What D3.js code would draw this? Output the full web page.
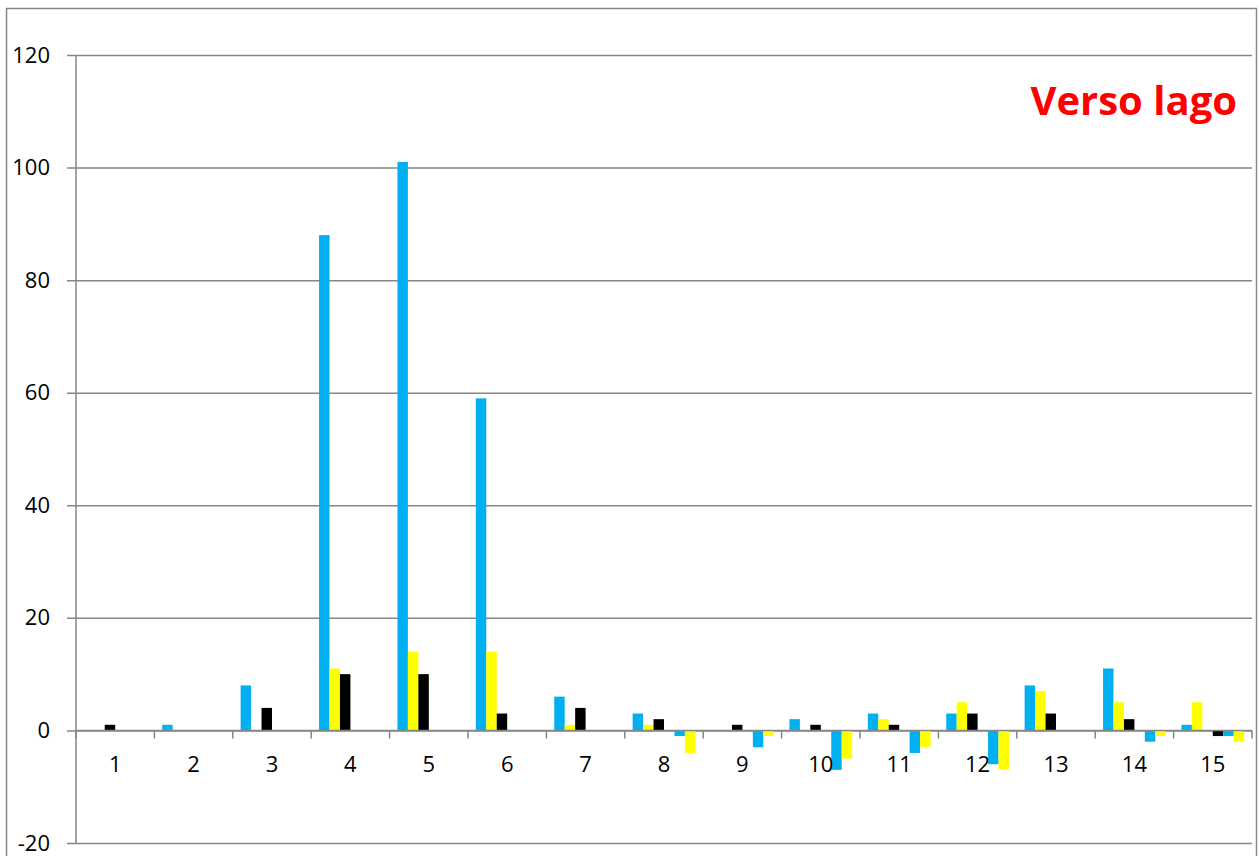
<!DOCTYPE html>
<html>
<head>
<meta charset="utf-8">
<script src="https://cdn.jsdelivr.net/npm/d3@7"></script>
<style>
  body { margin: 0; background: #fff; }
  text { font-family: "Open Sans", sans-serif; }
</style>
</head>
<body>
<div id="chart"></div>
<script>
let width = 1260,
    height = 856,
    margin = ({ top: 55, right: 8, bottom: 13, left: 76 });

const categories = ["1","2","3","4","5","6","7","8","9","10","11","12","13","14","15"];
const seriesNames = ["s1","s2","s3","s4","s5","s6"];
const seriesColors = ["#00b0f0","#ffff00","#000000","#000000","#00b0f0","#ffff00"];

// one array per series, one value per category
const s1 = [0, 1, 8, 88, 101, 59, 6, 3, 0, 2, 3, 3, 8, 11, 1];
const s2 = [0, 0, 0, 11, 14, 14, 1, 1, 0, 0, 2, 5, 7, 5, 5];
const s3 = [1, 0, 4, 10, 10, 3, 4, 2, 1, 1, 1, 3, 3, 2, 0];
const s4 = [0, 0, 0, 0, 0, 0, 0, 0, 0, 0, 0, 0, 0, 0, -1];
const s5 = [0, 0, 0, 0, 0, 0, 0, -1, -3, -7, -4, -6, 0, -2, -1];
const s6 = [0, 0, 0, 0, 0, 0, 0, -4, -1, -5, -3, -7, 0, -1, -2];
const yTicks = [-20, 0, 20, 40, 60, 80, 100, 120];
const title = "Verso lago";

const seriesValues = [s1, s2, s3, s4, s5, s6];

const svg = d3.select("#chart")
    .append("svg")
    .attr("width", width)
    .attr("height", height);

// outer chart frame
svg.append("path")
    .attr("d", "M6.5,860 V8.5 H1256.5 V860")
    .attr("fill", "none")
    .attr("stroke", "#868686")
    .attr("stroke-width", 1.5);

let x = d3.scaleBand()
    .domain(categories)
    .range([margin.left, 1252])
    .paddingInner(0)
    .paddingOuter(0);

let xs = d3.scaleBand()
    .domain(seriesNames)
    .range([0, x.bandwidth()])
    .paddingInner(0)
    .paddingOuter(0.75);

let y = d3.scaleLinear()
    .domain([-20, 120])
    .range([height - margin.bottom, margin.top]);

// horizontal gridlines + y labels
svg.append("g")
    .attr("transform", `translate(${margin.left},0)`)
    .attr("class", "y-axis")
    .call(d3.axisLeft(y).tickValues(yTicks).tickFormat(d => String(d))
        .tickSize(-(1252 - margin.left)).tickSizeOuter(0).tickPadding(26))
    .call(g => g.select(".domain").remove())
    .call(g => g.selectAll(".tick line")
        .attr("x1", -9)
        .attr("stroke", "#868686")
        .attr("stroke-width", 1.5))
    .call(g => g.selectAll(".tick text")
        .attr("font-size", 22)
        .attr("fill", "#000"));

// left axis line
svg.append("line")
    .attr("x1", margin.left).attr("x2", margin.left)
    .attr("y1", y(120)).attr("y2", y(-20))
    .attr("stroke", "#868686")
    .attr("stroke-width", 1.5);

// bars
const rows = [];
categories.forEach((c, i) => {
  seriesNames.forEach((s, j) => {
    rows.push({ cat: c, series: s, value: seriesValues[j][i], color: seriesColors[j] });
  });
});

svg.append("g")
    .selectAll("rect")
    .data(rows.filter(d => d.value !== 0))
    .join("rect")
    .attr("x", d => x(d.cat) + xs(d.series))
    .attr("width", xs.bandwidth())
    .attr("y", d => y(Math.max(0, d.value)))
    .attr("height", d => Math.abs(y(d.value) - y(0)))
    .attr("fill", d => d.color);

// category axis at zero
const xAxis = svg.append("g")
    .attr("transform", `translate(0,${y(0)})`)
    .attr("class", "x-axis");

xAxis.append("line")
    .attr("x1", margin.left).attr("x2", 1252)
    .attr("stroke", "#868686")
    .attr("stroke-width", 1.5);

xAxis.selectAll("line.tick")
    .data(categories.concat(["end"]))
    .join("line")
    .attr("class", "tick")
    .attr("x1", (d, i) => i < categories.length ? x(d) : x.range()[1])
    .attr("x2", (d, i) => i < categories.length ? x(d) : x.range()[1])
    .attr("y1", 0).attr("y2", 8)
    .attr("stroke", "#868686")
    .attr("stroke-width", 1.5);

xAxis.selectAll("text")
    .data(categories)
    .join("text")
    .attr("x", d => x(d) + x.bandwidth() / 2)
    .attr("y", 42)
    .attr("text-anchor", "middle")
    .attr("font-size", 22)
    .attr("fill", "#000")
    .text(d => d);

// title
svg.append("text")
    .attr("x", 1237)
    .attr("y", 115)
    .attr("text-anchor", "end")
    .attr("font-size", 40)
    .attr("font-weight", "bold")
    .attr("fill", "#ff0000")
    .text(title);
</script>
</body>
</html>
